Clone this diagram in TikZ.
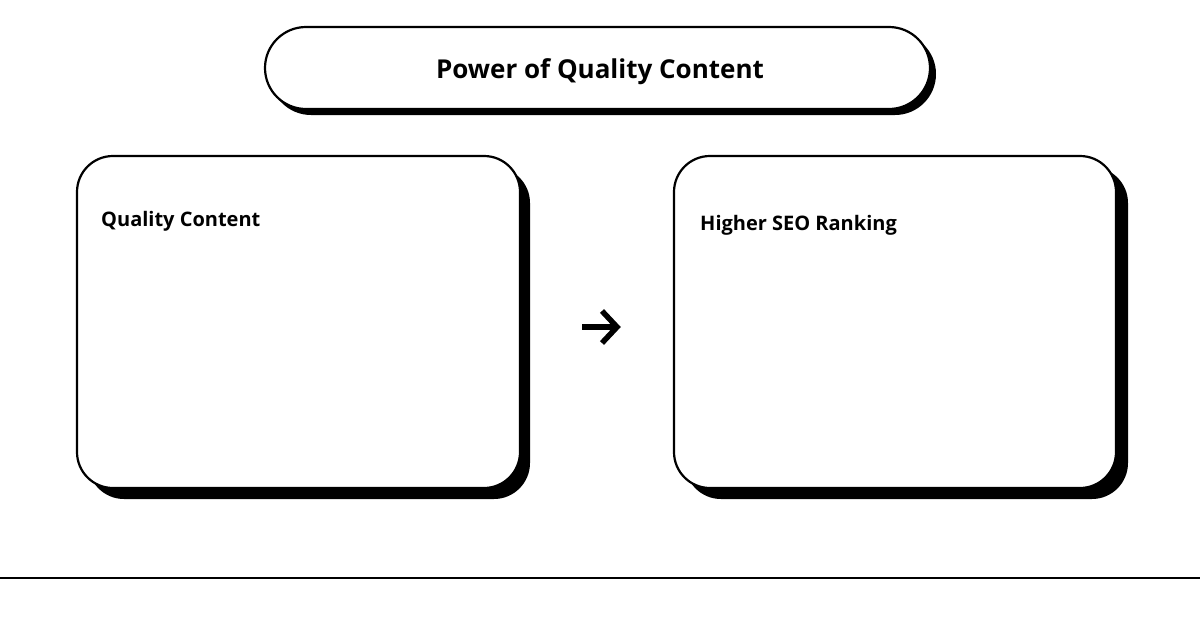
\documentclass[tikz,border=0pt]{standalone}
\usepackage{fontspec}
\setmainfont{Open Sans}
\begin{document}
\begin{tikzpicture}[x=1pt,y=-1pt,
  card/.style={draw=black,line width=2.2pt,fill=white,rounded corners=#1},
  shade/.style={fill=black,rounded corners=#1},
  lbl/.style={font=\bfseries\fontsize{20}{24}\selectfont,anchor=base west,inner sep=0pt},
  ttl/.style={font=\bfseries\fontsize{26}{30}\selectfont,anchor=base,inner sep=0pt},
  arr/.style={line width=5.5pt,line cap=butt}]
\useasboundingbox (0,0) rectangle (1200,630);
% title
\fill[shade=41] (270,33) rectangle (936,115);
\draw[card=41] (265,27) rectangle (930,109);
\node[ttl] (title) at (600,78.5) {Power of Quality Content};
% left card
\fill[shade=36] (88,167) rectangle (530,499);
\draw[card=36] (77,156) rectangle (520,488);
\node[lbl] (q) at (101,226.5) {Quality Content};
% right card
\fill[shade=36] (685,167) rectangle (1128,499);
\draw[card=36] (674,156) rectangle (1116,488);
\node[lbl] (h) at (700,230.5) {Higher SEO Ranking};
% arrow glyph
\coordinate (a1) at (582,327);
\coordinate (a2) at (615,327);
\coordinate (t1) at (602,311);
\coordinate (t2) at (617,327);
\coordinate (t3) at (602,343);
\draw[arr] (a1) -- (a2);
\draw[arr,line join=miter] (t1) -- (t2) -- (t3);
% bottom rule
\coordinate (l1) at (0,578);
\coordinate (l2) at (1200,578);
\draw[line width=2pt] (l1) -- (l2);
\end{tikzpicture}
\end{document}
